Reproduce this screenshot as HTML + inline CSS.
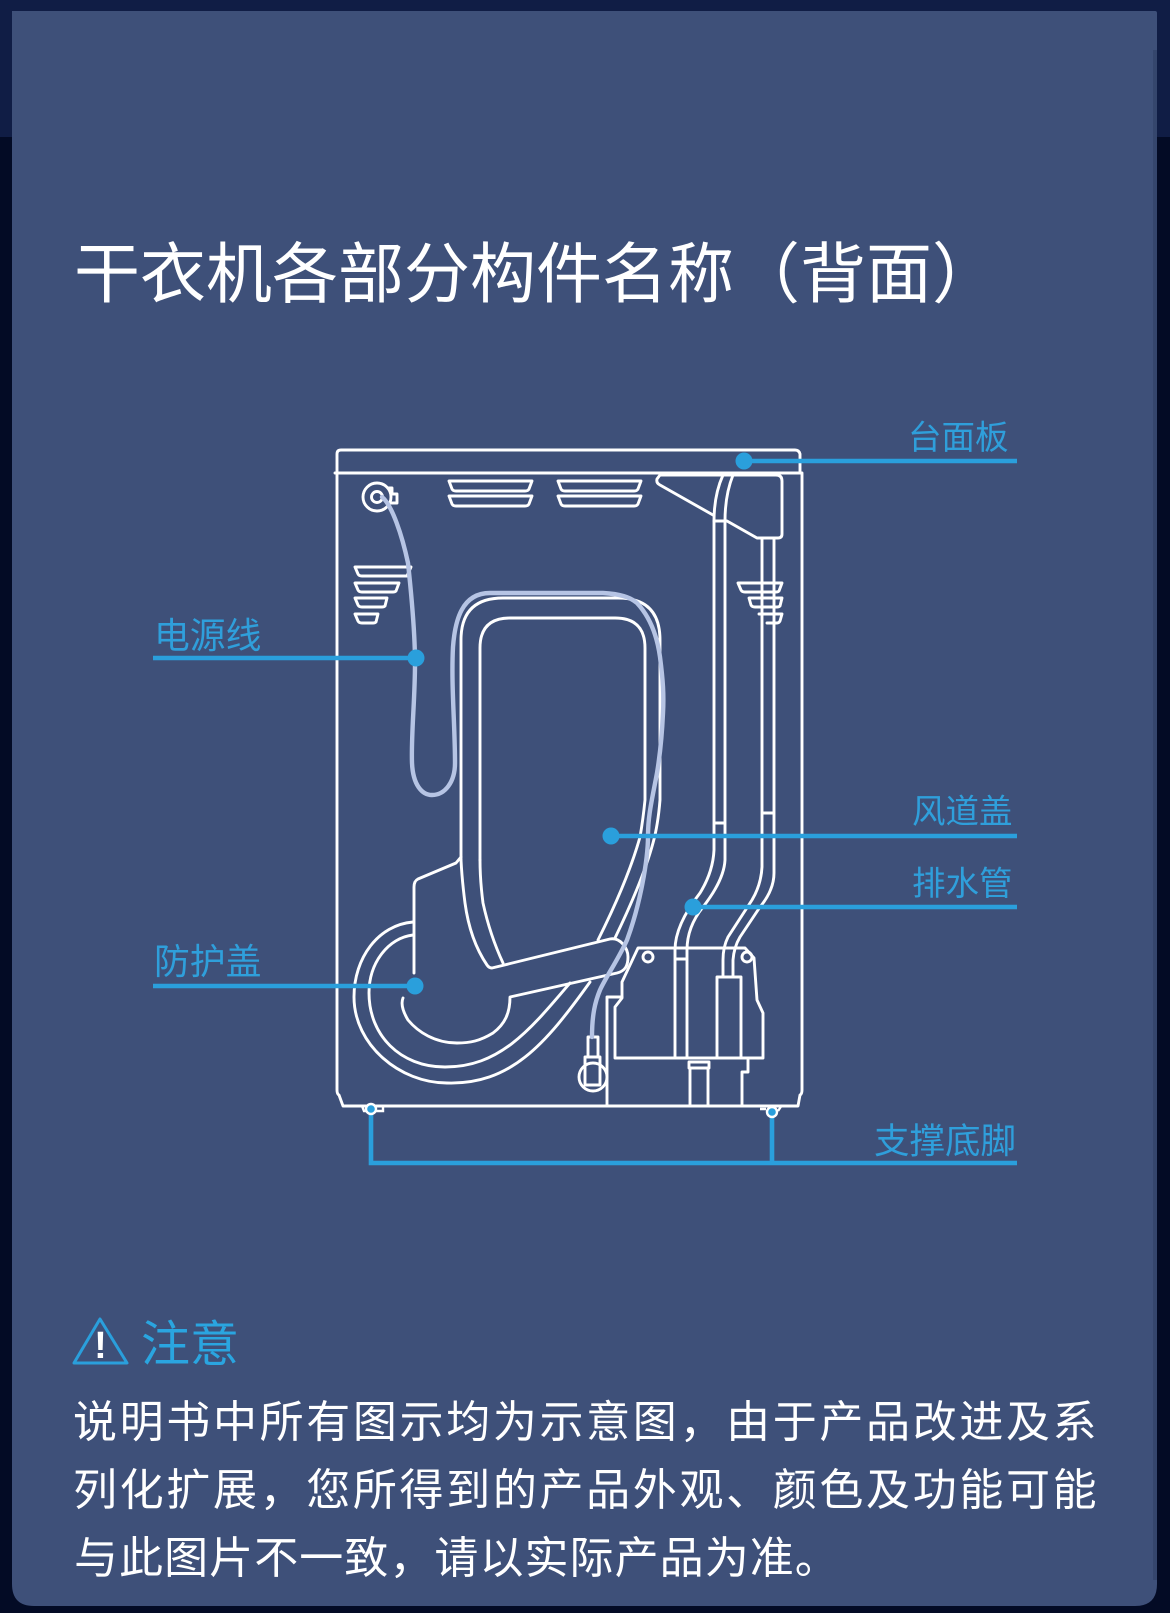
<!DOCTYPE html>
<html lang="zh"><head><meta charset="utf-8"><style>
html,body{margin:0;padding:0;width:1170px;height:1613px;overflow:hidden;background:#030b25}
svg{display:block;position:absolute;left:0;top:0}
text{font-family:"Liberation Sans","Noto Sans CJK SC",sans-serif}
</style></head><body>
<svg width="1170" height="1613" viewBox="0 0 1170 1613" xmlns="http://www.w3.org/2000/svg">
<rect width="1170" height="1613" fill="#030b25"/>
<rect width="1170" height="137" fill="#101d45"/>
<path d="M12 11H1155Q1157 11 1157 13V1584Q1157 1606 1135 1606H34Q12 1606 12 1584Z" fill="#3e5079"/>
<rect x="1153" y="50" width="4" height="1530" fill="#35466d"/>
<text x="74" y="297" font-size="66" fill="#fff">干衣机各部分构件名称（背面）</text>

<g fill="none" stroke="#fff" stroke-width="2.9" stroke-linejoin="round" stroke-linecap="round">
<!-- cabinet -->
<path d="M337 473V454Q337 450 341 450H795Q799 450 800 454V473M335 473H802M337 473V1090Q337 1094 339 1095L343 1106H798L800 1095Q802 1094 802 1090V473"/>
<!-- top vents -->
<path d="M449 481H532L529 489Q528 491 525 491H456Q453 491 452 489ZM449 496H532L529 504Q528 506 525 506H456Q453 506 452 504ZM558 481H641L638 489Q637 491 634 491H565Q562 491 561 489ZM558 496H641L638 504Q637 506 634 506H565Q562 506 561 504Z"/>
<!-- left vents -->
<path d="M355 567H411L407 576H362Q359 576 358 574ZM355 583H399L396 591Q395 592 393 592H362Q359 592 358 590ZM355 598H387L385 606Q384 607 382 607H362Q359 607 358 605ZM355 614H378L376 622Q375 623 373 623H362Q359 623 358 621Z"/>
<!-- right vents -->
<path d="M738 583H782L779 591Q778 592 776 592H745Q742 592 741 590ZM749 598H782L780 606Q779 607 777 607H755Q752 607 751 605ZM759 614H782L780 621Q779 623 777 623H767"/>
<!-- plug -->
<circle cx="377" cy="497" r="14"/><circle cx="377" cy="497" r="5.5"/>
<path d="M388 488H392V494H397V503H389"/>
<!-- top bracket -->
<path d="M660 475H776Q782 475 782 481V534Q782 538 778 538H757L727 521H714M660 475L657 479Q656 483 660 485L713 515"/>
<!-- pipes 1 -->
<path d="M723 475Q714 495 714 521V850Q713 872 700 893Q675 925 675 950V1058M733 475Q725 495 725 521V860Q724 880 703 907Q687 927 687 950V1058M714 823H725M675 959H687"/>
<!-- pipes 2 -->
<path d="M762 538V867Q761 885 752 900L728 937Q723 947 723 960V977M774 538V873Q774 890 760 907L740 937Q734 947 733 960V977M762 813H773"/>
<!-- duct -->
<path d="M461 860V640Q461 598 503 598H618Q660 598 660 640V800Q658 825 653 843Q643 880 615 938"/>
<path d="M480 860V648Q480 618 510 618H615Q645 618 645 648V800Q643 820 640 837Q628 880 598 940"/>
<path d="M461 860Q462 880 465 903Q470 940 487 965Q489 968 492 968L610 939C620 937 628 948 628 957C628 966 625 971 617 973L510 997C510 1013 505 1024 493 1033C480 1041 470 1043 457 1043C435 1043 418 1032 408 1020C402 1010 401 1003 403 998M480 860Q480 880 483 903Q490 935 503 963"/>
<!-- guard -->
<path d="M414 973V887Q414 881 418 879L456 863L461 857"/>
<!-- rings -->
<path d="M413 922C378 925 354 958 354 997C354 1045 400 1083 447 1083C510 1085 545 1045 590 982"/>
<path d="M413 935C388 938 369 963 369 993C369 1035 400 1067 445 1067C500 1067 530 1030 570 983"/>
<!-- pump box -->
<path d="M638 948H745L754 958L757 1000L763 1013V1058H615V1007L622 998V982Z"/>
<path d="M607 1106V997H622"/>
<circle cx="648" cy="957" r="5"/><circle cx="747" cy="957" r="5"/>
<path d="M717 1058V977H741V1058"/>
<path d="M689 1062H709V1068H689ZM690 1068V1106M708 1068V1106M742 1106V1072H748V1060"/>
<!-- cord plug -->
<path d="M588 1057V1037H598V1057M585 1057H600V1085H585Z"/>
<circle cx="593" cy="1077" r="14"/>
</g>

<!-- cord -->
<path d="M382 497C392 505 402 535 408 563C412 600 415 635 415 663C415 700 411 735 412 763C413 785 422 795 432 795C445 795 455 782 455 763C455 725 451 685 453 647C455 620 462 593 490 593L603 593C620 594 630 597 637 603C650 617 657 635 660 657C663 680 664 695 663 713C662 735 660 755 657 773C652 800 648 815 648 836C648 860 640 905 627 940C618 960 607 975 600 990C595 1002 592 1015 592 1037" fill="none" stroke="#b6c4e4" stroke-width="4.4" stroke-linecap="round"/>

<!-- callouts -->
<g fill="none" stroke="#2a9fdc" stroke-width="4.6">
<path d="M744 461H1017M153 658H416M611 836H1017M693 907H1017M153 986H415M371 1112V1163H1017M772 1115V1163"/>
</g>
<g fill="#2a9fdc">
<circle cx="744" cy="461" r="8.5"/><circle cx="416" cy="658" r="8.5"/><circle cx="611" cy="836" r="8.5"/><circle cx="693" cy="907" r="8.5"/><circle cx="415" cy="986" r="8.5"/>
</g>
<circle cx="371" cy="1109" r="5" fill="#2a9fdc" stroke="#fff" stroke-width="2.4"/>
<circle cx="772" cy="1112" r="5" fill="#2a9fdc" stroke="#fff" stroke-width="2.4"/>
<path d="M362 1106L364 1111H366M376 1111H383V1107M760 1109H766M778 1111L782 1105" stroke="#fff" stroke-width="2.4" fill="none"/>

<g font-size="33.5" fill="#2f9fdb">
<text x="908" y="449">台面板</text>
<text x="154" y="648" font-size="35.8">电源线</text>
<text x="912" y="823">风道盖</text>
<text x="912" y="895">排水管</text>
<text x="154" y="974" font-size="35.8">防护盖</text>
<text x="874" y="1153" font-size="35.5">支撑底脚</text>
</g>

<!-- notice -->
<path d="M100 1319L127 1363H74Z" fill="none" stroke="#2a9fdc" stroke-width="3" stroke-linejoin="round"/>
<text x="100.500" y="1358" font-size="38" font-weight="bold" fill="#fff" text-anchor="middle">!</text>
<text x="141" y="1361" font-size="49" fill="#2aa5e0">注意</text>

<g font-size="44" fill="#fff">
<text x="73" y="1437" letter-spacing="2.65">说明书中所有图示均为示意图，由于产品改进及系</text>
<text x="73" y="1505" letter-spacing="2.65">列化扩展，您所得到的产品外观、颜色及功能可能</text>
<text x="74" y="1573" letter-spacing="1.05">与此图片不一致，请以实际产品为准。</text>
</g>
</svg>
</body></html>
